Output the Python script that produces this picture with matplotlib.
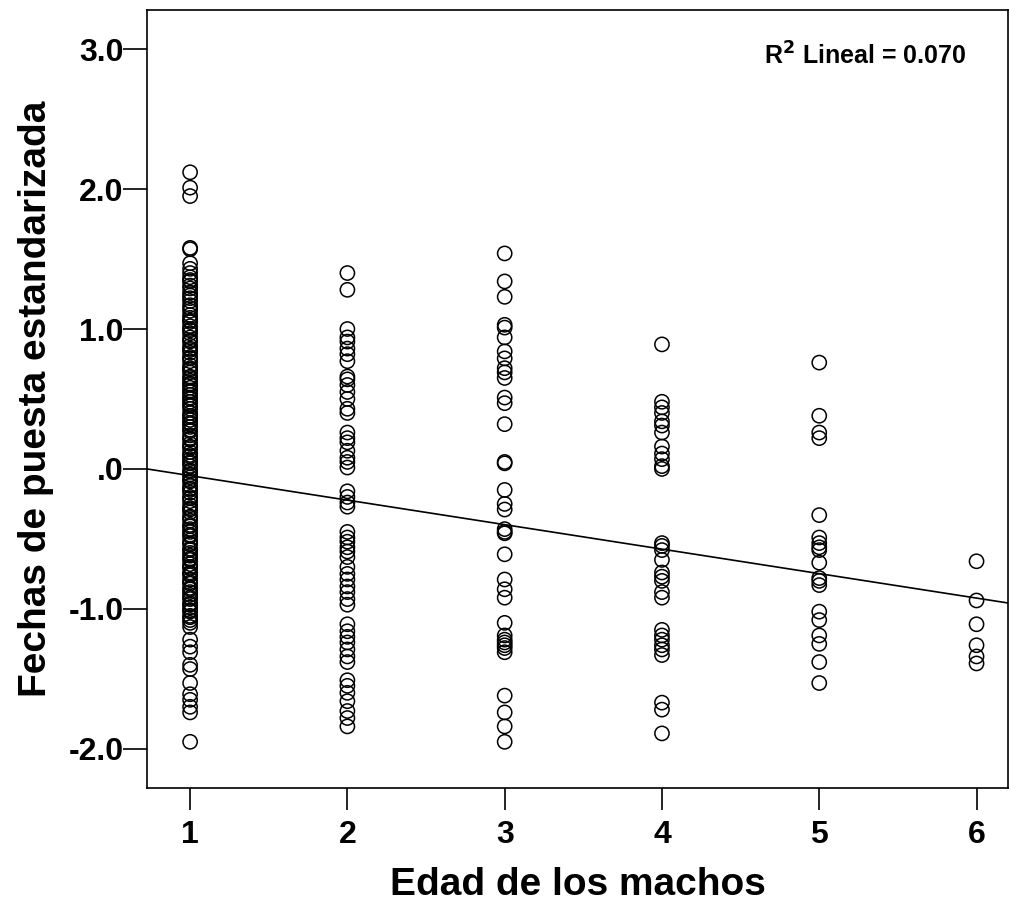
import matplotlib.pyplot as plt
import numpy as np

plt.rcParams['font.family'] = ['Liberation Sans', 'DejaVu Sans']

# Valores (fechas de puesta estandarizadas por edad)
edad1 = [2.12, 2.01, 1.95, 1.58, 1.57, 1.47, 1.43, 1.40, 1.37, 1.34, 1.31, 1.29,
         1.26, 1.22, 1.20, 1.17, 1.13, 1.10, 1.08, 1.05, 1.02, 1.00, 0.97, 0.94,
         0.91, 0.88, 0.86, 0.83, 0.80, 0.77, 0.74, 0.72, 0.69, 0.66, 0.63, 0.61,
         0.58, 0.55, 0.53, 0.50, 0.48, 0.46, 0.43, 0.40, 0.37, 0.35, 0.32, 0.30,
         0.27, 0.24, 0.21, 0.18, 0.15, 0.12, 0.10, 0.07, 0.04, 0.02, -0.01, -0.04,
         -0.06, -0.09, -0.12, -0.15, -0.17, -0.20, -0.23, -0.26, -0.28, -0.31,
         -0.34, -0.37, -0.40, -0.43, -0.45, -0.48, -0.51, -0.54, -0.57, -0.60,
         -0.62, -0.65, -0.68, -0.71, -0.74, -0.76, -0.79, -0.82, -0.85, -0.88,
         -0.90, -0.93, -0.96, -0.99, -1.02, -1.05, -1.08, -1.13, -1.22, -1.27,
         -1.31, -1.40, -1.43, -1.53, -1.61, -1.65, -1.70, -1.74, -1.95,
         # puntos solapados en la zona densa
         1.35, 1.24, 1.15, 1.06, 0.99, 0.92, 0.85, 0.79, 0.71, 0.65, 0.60, 0.56,
         0.51, 0.45, 0.38, 0.33, 0.28, 0.22, 0.16, 0.09, 0.05, -0.02, -0.08,
         -0.14, -0.21, -0.29, -0.35, -0.41, -0.47, -0.53, -0.58, -0.64, -0.70,
         -0.75, -0.81, -0.86, -0.92, -0.97, -1.01, -1.06, -1.10]
edad2 = [1.40, 1.28, 1.00, 0.94, 0.91, 0.86, 0.82, 0.77, 0.66, 0.64, 0.60, 0.55,
         0.50, 0.43, 0.40, 0.26, 0.22, 0.19, 0.13, 0.08, 0.05, 0.01, -0.16, -0.20,
         -0.24, -0.27, -0.45, -0.49, -0.52, -0.56, -0.59, -0.63, -0.70, -0.75,
         -0.79, -0.84, -0.88, -0.93, -0.97, -1.11, -1.16, -1.20, -1.24, -1.29,
         -1.34, -1.38, -1.51, -1.55, -1.60, -1.66, -1.73, -1.78, -1.84]
edad3 = [1.54, 1.34, 1.23, 1.03, 1.01, 0.94, 0.84, 0.79, 0.72, 0.69, 0.65, 0.51,
         0.47, 0.32, 0.05, 0.04, -0.15, -0.25, -0.29, -0.43, -0.45, -0.46, -0.61,
         -0.79, -0.86, -0.92, -1.10, -1.19, -1.22, -1.24, -1.26, -1.28, -1.31,
         -1.62, -1.74, -1.84, -1.95]
edad4 = [0.89, 0.48, 0.44, 0.40, 0.34, 0.31, 0.26, 0.16, 0.11, 0.07, 0.02, 0.00,
         -0.53, -0.55, -0.58, -0.65, -0.74, -0.77, -0.80, -0.88, -0.92, -1.15,
         -1.19, -1.22, -1.26, -1.29, -1.33, -1.67, -1.72, -1.89]
edad5 = [0.76, 0.38, 0.26, 0.22, -0.33, -0.49, -0.53, -0.56, -0.58, -0.67, -0.78,
         -0.80, -0.83, -1.02, -1.08, -1.19, -1.25, -1.38, -1.53]
edad6 = [-0.66, -0.94, -1.11, -1.26, -1.34, -1.39]

edades = [1, 2, 3, 4, 5, 6]
valores = [edad1, edad2, edad3, edad4, edad5, edad6]

# Recta de regresion lineal (R2 = 0.070)
pendiente = -0.175
intercepto = 0.127

fig = plt.figure(figsize=(10.09, 9.05), dpi=100)
ax = fig.add_axes([0.1457, 0.1293, 0.8533, 0.8597])

for e, v in zip(edades, valores):
    ax.scatter(np.full(len(v), e), v, s=105, facecolors='none',
               edgecolors='black', linewidths=1.1, zorder=3)

xl = np.array([0.726, 6.2])
ax.plot(xl, intercepto + pendiente * xl, color='black', lw=1.2, zorder=2)

ax.set_xlim(0.726, 6.2)
ax.set_ylim(-2.28, 3.28)
ax.set_xticks(edades)
ax.set_xticklabels([str(e) for e in edades])
ax.set_yticks([-2, -1, 0, 1, 2, 3])
ax.set_yticklabels(['-2.0', '-1.0', '.0', '1.0', '2.0', '3.0'])
ax.tick_params(direction='out', width=1.2, labelsize=23)
ax.tick_params(axis='y', length=17, pad=0)
ax.tick_params(axis='x', length=16, pad=7)
for lab in ax.get_xticklabels() + ax.get_yticklabels():
    lab.set_fontweight('bold')
for s in ax.spines.values():
    s.set_linewidth(1.2)

ax.set_xlabel('Edad de los machos', fontsize=28, fontweight='bold', labelpad=12)
ax.set_ylabel('Fechas de puesta estandarizada', fontsize=28, fontweight='bold',
              labelpad=10)
ax.text(0.952, 0.941, r'R$^{\mathbf{2}}$ Lineal = 0.070', transform=ax.transAxes,
        ha='right', va='center', fontsize=18, fontweight='bold')

fig.savefig('out.png', dpi=100)
